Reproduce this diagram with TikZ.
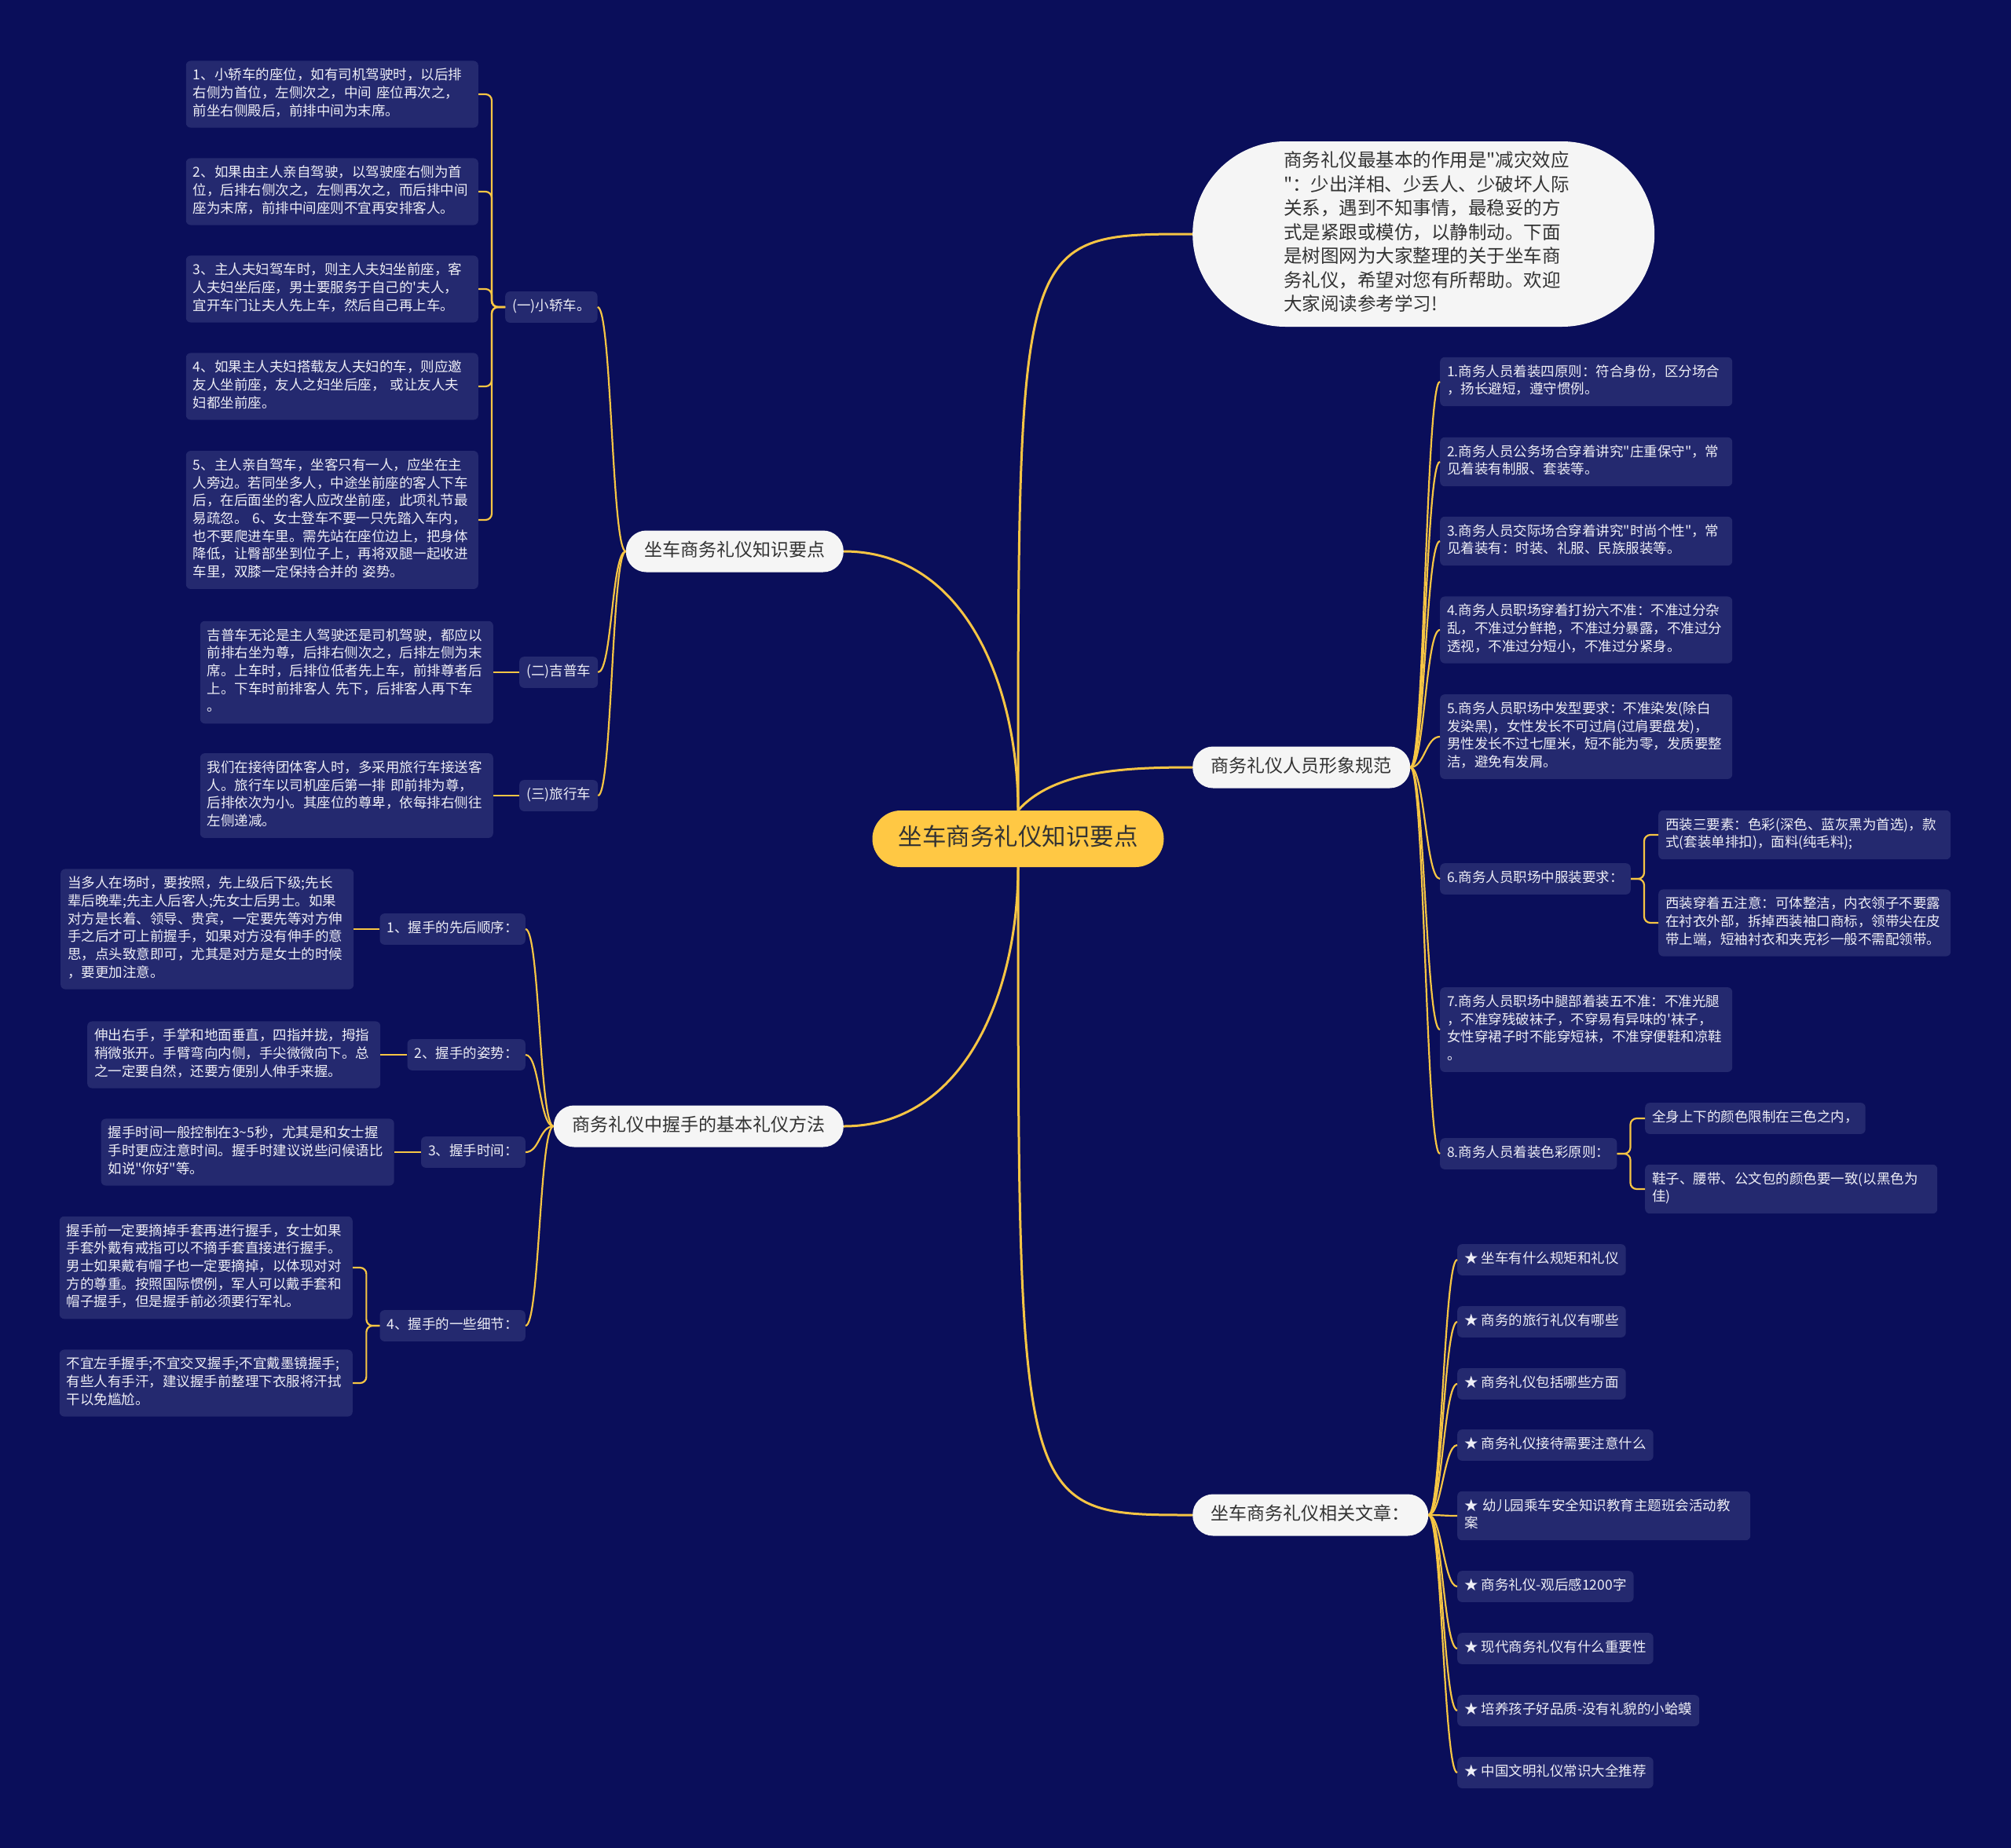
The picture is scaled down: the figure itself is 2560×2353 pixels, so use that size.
\documentclass[tikz,border=0pt]{standalone}
\usepackage{fontspec}
\setmainfont{Noto Sans CJK SC}[Ligatures=TeXOff]
\usepackage{tikz}
\usetikzlibrary{positioning}
\definecolor{bgnavy}{HTML}{0A0E5A}
\definecolor{leafblue}{HTML}{24296F}
\definecolor{linegold}{HTML}{F6C544}
\definecolor{rootgold}{HTML}{FFC844}
\definecolor{topicwhite}{HTML}{F5F5F5}
\definecolor{inkgray}{HTML}{333333}
\definecolor{leaftext}{HTML}{EEEEF6}

\begin{document}
\begin{tikzpicture}[
x=1pt, y=-1pt,
every node/.append style={execute at begin node={\noindent\strut}, execute at end node=\strut},
rootbox/.style={fill=rootgold, text=inkgray, rounded corners=36pt, inner xsep=33pt, inner ysep=16pt, font=\fontsize{30.5}{40}\selectfont},
topicbox/.style={fill=topicwhite, text=inkgray, rounded corners=26pt, inner xsep=23.5pt, inner ysep=11.5pt, font=\fontsize{23}{30}\selectfont},
bubble/.style={fill=topicwhite, text=inkgray, rounded corners=118pt, minimum width=588pt, minimum height=236pt, text width=356pt, align=left, font=\fontsize{23.5}{30.5}\selectfont},
leafbox/.style={fill=leafblue, text=leaftext, rounded corners=6pt, inner xsep=9pt, inner ysep=8.5pt, align=left, font=\fontsize{17.5}{22.7}\selectfont},
trunk/.style={draw=linegold, line width=3pt},
lnk/.style={draw=linegold, line width=2.2pt},
brk/.style={draw=linegold, line width=2.2pt, rounded corners=8pt}
]
\fill[bgnavy] (0,0) rectangle (2560,2353);
\useasboundingbox (0,0) rectangle (2560,2353);

\node[rootbox] (root) at (1296,1068) {坐车商务礼仪知识要点};
\node[bubble, anchor=west] (intro) at (1518,298) {商务礼仪最基本的作用是"减灾效应\\"：少出洋相、少丢人、少破坏人际\\关系，遇到不知事情，最稳妥的方\\式是紧跟或模仿，以静制动。下面\\是树图网为大家整理的关于坐车商\\务礼仪，希望对您有所帮助。欢迎\\大家阅读参考学习!};
\node[topicbox, anchor=east] (seat) at (1074,702) {坐车商务礼仪知识要点};
\node[topicbox, anchor=east] (shake) at (1074,1434) {商务礼仪中握手的基本礼仪方法};
\node[topicbox, anchor=west] (image) at (1518,977) {商务礼仪人员形象规范};
\node[topicbox, anchor=west] (links) at (1518,1929) {坐车商务礼仪相关文章：};

\node[leafbox, anchor=west] (sedan) at (643,391) {(一)小轿车。};
\node[leafbox, anchor=west] (jeep) at (661,856) {(二)吉普车};
\node[leafbox, anchor=west] (coach) at (661,1013) {(三)旅行车};
\node[leafbox, text width=354pt, anchor=east] (sedan1) at (609,120) {1、小轿车的座位，如有司机驾驶时，以后排\\右侧为首位，左侧次之，中间 座位再次之，\\前坐右侧殿后，前排中间为末席。};
\node[leafbox, text width=354pt, anchor=east] (sedan2) at (609,244) {2、如果由主人亲自驾驶，以驾驶座右侧为首\\位，后排右侧次之，左侧再次之，而后排中间\\座为末席，前排中间座则不宜再安排客人。};
\node[leafbox, text width=354pt, anchor=east] (sedan3) at (609,368) {3、主人夫妇驾车时，则主人夫妇坐前座，客\\人夫妇坐后座，男士要服务于自己的'夫人，\\宜开车门让夫人先上车，然后自己再上车。};
\node[leafbox, text width=354pt, anchor=east] (sedan4) at (609,492) {4、如果主人夫妇搭载友人夫妇的车，则应邀\\友人坐前座，友人之妇坐后座， 或让友人夫\\妇都坐前座。};
\node[leafbox, text width=354pt, anchor=east] (sedan5) at (609,662) {5、主人亲自驾车，坐客只有一人，应坐在主\\人旁边。若同坐多人，中途坐前座的客人下车\\后，在后面坐的客人应改坐前座，此项礼节最\\易疏忽。 6、女士登车不要一只先踏入车内，\\也不要爬进车里。需先站在座位边上，把身体\\降低，让臀部坐到位子上，再将双腿一起收进\\车里，双膝一定保持合并的 姿势。};
\node[leafbox, text width=355pt, left=33pt of jeep] (jeepnote) {吉普车无论是主人驾驶还是司机驾驶，都应以\\前排右坐为尊，后排右侧次之，后排左侧为末\\席。上车时，后排位低者先上车，前排尊者后\\上。下车时前排客人 先下，后排客人再下车\\。};
\node[leafbox, text width=355pt, left=33pt of coach] (coachnote) {我们在接待团体客人时，多采用旅行车接送客\\人。旅行车以司机座后第一排 即前排为尊，\\后排依次为小。其座位的尊卑，依每排右侧往\\左侧递减。};

\node[leafbox, anchor=east] (order) at (669,1183) {1、握手的先后顺序：};
\node[leafbox, anchor=east] (pose) at (669,1343) {2、握手的姿势：};
\node[leafbox, anchor=east] (timing) at (669,1467) {3、握手时间：};
\node[leafbox, anchor=east] (details) at (669,1688) {4、握手的一些细节：};
\node[leafbox, text width=355pt, left=33pt of order] (ordernote) {当多人在场时，要按照，先上级后下级;先长\\辈后晚辈;先主人后客人;先女士后男士。如果\\对方是长着、领导、贵宾，一定要先等对方伸\\手之后才可上前握手，如果对方没有伸手的意\\思，点头致意即可，尤其是对方是女士的时候\\，要更加注意。};
\node[leafbox, text width=355pt, left=34pt of pose] (posenote) {伸出右手，手掌和地面垂直，四指并拢，拇指\\稍微张开。手臂弯向内侧，手尖微微向下。总\\之一定要自然，还要方便别人伸手来握。};
\node[leafbox, text width=355pt, left=34pt of timing] (timingnote) {握手时间一般控制在3\textasciitilde 5秒，尤其是和女士握\\手时更应注意时间。握手时建议说些问候语比\\如说"你好"等。};
\node[leafbox, text width=355pt, anchor=east] (details1) at (449,1614) {握手前一定要摘掉手套再进行握手，女士如果\\手套外戴有戒指可以不摘手套直接进行握手。\\男士如果戴有帽子也一定要摘掉，以体现对对\\方的尊重。按照国际惯例，军人可以戴手套和\\帽子握手，但是握手前必须要行军礼。};
\node[leafbox, text width=355pt, anchor=east] (details2) at (449,1761) {不宜左手握手;不宜交叉握手;不宜戴墨镜握手;\\有些人有手汗，建议握手前整理下衣服将汗拭\\干以免尴尬。};

\node[leafbox, text width=354pt, anchor=west] (dress1) at (1833,486) {1.商务人员着装四原则：符合身份，区分场合\\，扬长避短，遵守惯例。};
\node[leafbox, text width=354pt, anchor=west] (dress2) at (1833,588) {2.商务人员公务场合穿着讲究"庄重保守"，常\\见着装有制服、套装等。};
\node[leafbox, text width=354pt, anchor=west] (dress3) at (1833,689) {3.商务人员交际场合穿着讲究"时尚个性"，常\\见着装有：时装、礼服、民族服装等。};
\node[leafbox, text width=354pt, anchor=west] (dress4) at (1833,802) {4.商务人员职场穿着打扮六不准：不准过分杂\\乱，不准过分鲜艳，不准过分暴露，不准过分\\透视，不准过分短小，不准过分紧身。};
\node[leafbox, text width=354pt, anchor=west] (dress5) at (1833,938) {5.商务人员职场中发型要求：不准染发(除白\\发染黑)，女性发长不可过肩(过肩要盘发)，\\男性发长不过七厘米，短不能为零，发质要整\\洁，避免有发屑。};
\node[leafbox, anchor=west] (suit) at (1833,1119) {6.商务人员职场中服装要求：};
\node[leafbox, text width=354pt, anchor=west] (suit1) at (2111,1063) {西装三要素：色彩(深色、蓝灰黑为首选)，款\\式(套装单排扣)，面料(纯毛料);};
\node[leafbox, text width=354pt, anchor=west] (suit2) at (2111,1175) {西装穿着五注意：可体整洁，内衣领子不要露\\在衬衣外部，拆掉西装袖口商标，领带尖在皮\\带上端，短袖衬衣和夹克衫一般不需配领带。};
\node[leafbox, text width=354pt, anchor=west] (dress7) at (1833,1311) {7.商务人员职场中腿部着装五不准：不准光腿\\，不准穿残破袜子，不穿易有异味的'袜子，\\女性穿裙子时不能穿短袜，不准穿便鞋和凉鞋\\。};
\node[leafbox, anchor=west] (colour) at (1833,1469) {8.商务人员着装色彩原则：};
\node[leafbox, anchor=west] (colour1) at (2094,1424) {全身上下的颜色限制在三色之内，};
\node[leafbox, text width=354pt, anchor=west] (colour2) at (2094,1514) {鞋子、腰带、公文包的颜色要一致(以黑色为\\佳)};

\node[leafbox, anchor=west] (rel1) at (1855,1604) {★ 坐车有什么规矩和礼仪};
\node[leafbox, anchor=west] (rel2) at (1855,1683) {★ 商务的旅行礼仪有哪些};
\node[leafbox, anchor=west] (rel3) at (1855,1762) {★ 商务礼仪包括哪些方面};
\node[leafbox, anchor=west] (rel4) at (1855,1840) {★ 商务礼仪接待需要注意什么};
\node[leafbox, text width=355pt, anchor=west] (rel5) at (1855,1930) {★ 幼儿园乘车安全知识教育主题班会活动教\\案};
\node[leafbox, anchor=west] (rel6) at (1855,2020) {★ 商务礼仪-观后感1200字};
\node[leafbox, anchor=west] (rel7) at (1855,2099) {★ 现代商务礼仪有什么重要性};
\node[leafbox, anchor=west] (rel8) at (1855,2178) {★ 培养孩子好品质-没有礼貌的小蛤蟆};
\node[leafbox, anchor=west] (rel9) at (1855,2257) {★ 中国文明礼仪常识大全推荐};

\draw[trunk] (root.north) .. controls (root.north |- intro.west) and (root.north |- intro.west) .. (intro.west);
\draw[trunk] (root.north) .. controls +(0,-156) and +(156,0) .. (seat.east);
\draw[trunk] (root.north) .. controls +(45,-50) and +(-90,0) .. (image.west);
\draw[trunk] (root.south) .. controls +(0,156) and +(156,0) .. (shake.east);
\draw[trunk] (root.south) .. controls (root.south |- links.west) and (root.south |- links.west) .. (links.west);

\draw[lnk] (seat.west) .. controls +(-18,0) and +(18,0) .. (sedan.east);
\draw[lnk] (seat.west) .. controls +(-18,0) and +(18,0) .. (jeep.east);
\draw[lnk] (seat.west) .. controls +(-18,0) and +(18,0) .. (coach.east);
\draw[brk] (sedan.west) -- ++(-17,0) |- (sedan1.east);
\draw[brk] (sedan.west) -- ++(-17,0) |- (sedan2.east);
\draw[brk] (sedan.west) -- ++(-17,0) |- (sedan3.east);
\draw[brk] (sedan.west) -- ++(-17,0) |- (sedan4.east);
\draw[brk] (sedan.west) -- ++(-17,0) |- (sedan5.east);
\draw[lnk] (jeep.west) -- (jeepnote.east);
\draw[lnk] (coach.west) -- (coachnote.east);

\draw[lnk] (shake.west) .. controls +(-18,0) and +(18,0) .. (order.east);
\draw[lnk] (shake.west) .. controls +(-18,0) and +(18,0) .. (pose.east);
\draw[lnk] (shake.west) .. controls +(-18,0) and +(18,0) .. (timing.east);
\draw[lnk] (shake.west) .. controls +(-18,0) and +(18,0) .. (details.east);
\draw[lnk] (order.west) -- (ordernote.east);
\draw[lnk] (pose.west) -- (posenote.east);
\draw[lnk] (timing.west) -- (timingnote.east);
\draw[brk] (details.west) -- ++(-17,0) |- (details1.east);
\draw[brk] (details.west) -- ++(-17,0) |- (details2.east);

\draw[lnk] (image.east) .. controls +(18,0) and +(-18,0) .. (dress1.west);
\draw[lnk] (image.east) .. controls +(18,0) and +(-18,0) .. (dress2.west);
\draw[lnk] (image.east) .. controls +(18,0) and +(-18,0) .. (dress3.west);
\draw[lnk] (image.east) .. controls +(18,0) and +(-18,0) .. (dress4.west);
\draw[lnk] (image.east) .. controls +(18,0) and +(-18,0) .. (dress5.west);
\draw[lnk] (image.east) .. controls +(18,0) and +(-18,0) .. (suit.west);
\draw[lnk] (image.east) .. controls +(18,0) and +(-18,0) .. (dress7.west);
\draw[lnk] (image.east) .. controls +(18,0) and +(-18,0) .. (colour.west);
\draw[brk] (suit.east) -- ++(17,0) |- (suit1.west);
\draw[brk] (suit.east) -- ++(17,0) |- (suit2.west);
\draw[brk] (colour.east) -- ++(17,0) |- (colour1.west);
\draw[brk] (colour.east) -- ++(17,0) |- (colour2.west);

\draw[lnk] (links.east) .. controls +(17,0) and +(-17,0) .. (rel1.west);
\draw[lnk] (links.east) .. controls +(17,0) and +(-17,0) .. (rel2.west);
\draw[lnk] (links.east) .. controls +(17,0) and +(-17,0) .. (rel3.west);
\draw[lnk] (links.east) .. controls +(17,0) and +(-17,0) .. (rel4.west);
\draw[lnk] (links.east) .. controls +(17,0) and +(-17,0) .. (rel5.west);
\draw[lnk] (links.east) .. controls +(17,0) and +(-17,0) .. (rel6.west);
\draw[lnk] (links.east) .. controls +(17,0) and +(-17,0) .. (rel7.west);
\draw[lnk] (links.east) .. controls +(17,0) and +(-17,0) .. (rel8.west);
\draw[lnk] (links.east) .. controls +(17,0) and +(-17,0) .. (rel9.west);
\end{tikzpicture}
\end{document}
